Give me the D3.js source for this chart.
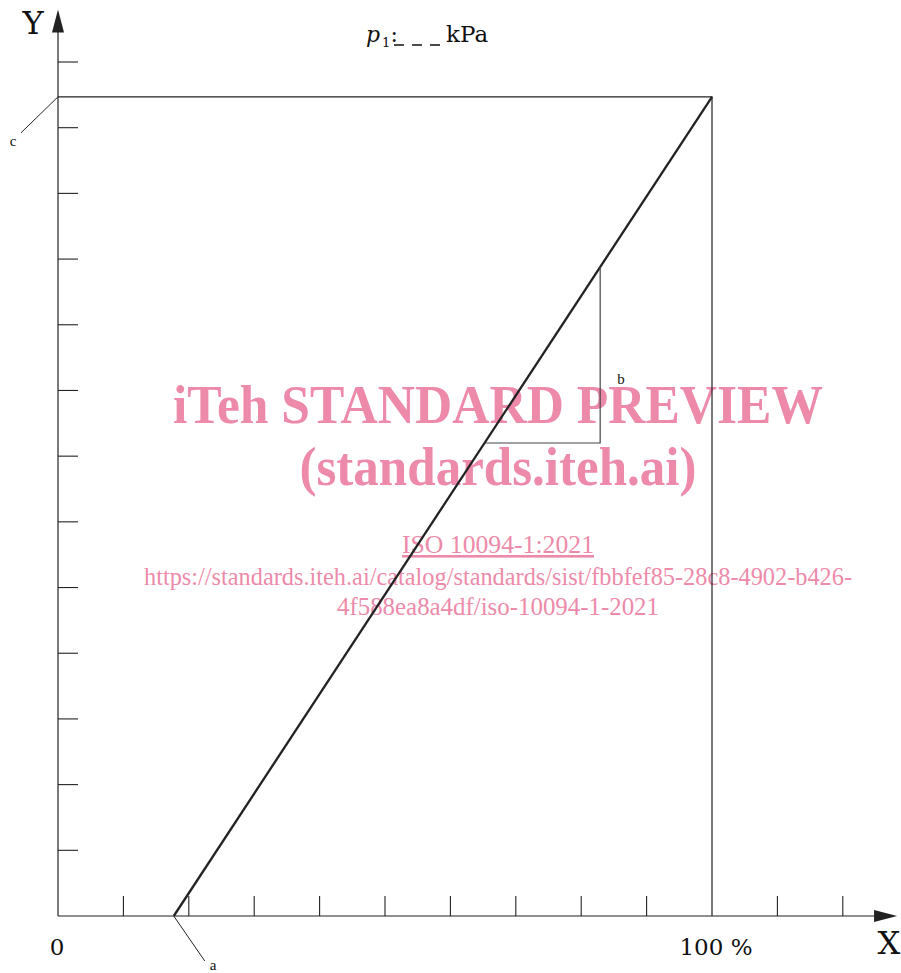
<!DOCTYPE html>
<html>
<head>
<meta charset="utf-8">
<script src="https://cdn.jsdelivr.net/npm/d3@7"></script>
<style>
  body { margin: 0; background: #fff; }
  svg text { font-family: "Liberation Serif", "DejaVu Serif", serif; }
  svg text.lab { font-family: "DejaVu Serif", serif; }
</style>
</head>
<body>
<svg id="chart"></svg>
<script>
const svgWidth = 901;
const svgHeight = 973;

// x in percent of stroke, y in tick units
const xTicks = [10, 20, 30, 40, 50, 60, 70, 80, 90, 100, 110, 120];
const yTicks = [1, 2, 3, 4, 5, 6, 7, 8, 9, 10, 11, 12, 13];
const xMax = 128.3;
const yMax = 13.8;
const fullScale = 12.47;
const lineData = [{ x: 17.7, y: 0 }, { x: 100, y: fullScale }];
const slopeX = [82.9];
const slopeY = [7.2];

const svg = d3.select('#chart')
    .attr('width', svgWidth)
    .attr('height', svgHeight);

const x = d3.scaleLinear().domain([0, 100]).range([58, 712]);
const y = d3.scaleLinear().domain([0, 13]).range([916, 62]);

const ink = '#222';

// watermark (underneath the drawing)
const pink = '#ed8aaa';
svg.append('text').attr('x', 498).attr('y', 423).attr('text-anchor', 'middle')
    .attr('font-size', 54).attr('font-weight', 'bold').attr('fill', pink)
    .attr('textLength', 650).attr('lengthAdjust', 'spacingAndGlyphs')
    .text('iTeh STANDARD PREVIEW');
svg.append('text').attr('x', 498).attr('y', 485).attr('text-anchor', 'middle')
    .attr('font-size', 54).attr('font-weight', 'bold').attr('fill', pink)
    .attr('textLength', 397).attr('lengthAdjust', 'spacingAndGlyphs')
    .text('(standards.iteh.ai)');
svg.append('text').attr('x', 498).attr('y', 553).attr('text-anchor', 'middle')
    .attr('font-size', 26).attr('fill', pink)
    .attr('text-decoration', 'underline')
    .attr('textLength', 192).attr('lengthAdjust', 'spacingAndGlyphs')
    .text('ISO 10094-1:2021');
svg.append('text').attr('x', 498).attr('y', 585).attr('text-anchor', 'middle')
    .attr('font-size', 26).attr('fill', pink)
    .attr('textLength', 708).attr('lengthAdjust', 'spacingAndGlyphs')
    .text('https://standards.iteh.ai/catalog/standards/sist/fbbfef85-28c8-4902-b426-');
svg.append('text').attr('x', 498).attr('y', 615).attr('text-anchor', 'middle')
    .attr('font-size', 26).attr('fill', pink)
    .attr('textLength', 322).attr('lengthAdjust', 'spacingAndGlyphs')
    .text('4f588ea8a4df/iso-10094-1-2021');

// axes
svg.append('line')
    .attr('x1', x(0)).attr('y1', y(0))
    .attr('x2', x(xMax) - 20).attr('y2', y(0))
    .attr('stroke', ink).attr('stroke-width', 1.2);
svg.append('path')
    .attr('d', `M${x(xMax)},${y(0)} L${x(xMax) - 23},${y(0) - 6} L${x(xMax) - 23},${y(0) + 6} Z`)
    .attr('fill', ink);
svg.append('line')
    .attr('x1', x(0)).attr('y1', y(0))
    .attr('x2', x(0)).attr('y2', y(yMax) + 20)
    .attr('stroke', ink).attr('stroke-width', 1.2);
svg.append('path')
    .attr('d', `M${x(0)},${y(yMax)} L${x(0) - 6},${y(yMax) + 23} L${x(0) + 6},${y(yMax) + 23} Z`)
    .attr('fill', ink);

// ticks
svg.selectAll('.xtick')
    .data(xTicks.filter(d => d !== 100))
    .enter().append('line')
    .attr('class', 'xtick')
    .attr('x1', d => x(d)).attr('x2', d => x(d))
    .attr('y1', y(0)).attr('y2', y(0) - 20)
    .attr('stroke', ink).attr('stroke-width', 1.1);

svg.selectAll('.ytick')
    .data(yTicks)
    .enter().append('line')
    .attr('class', 'ytick')
    .attr('x1', x(0)).attr('x2', x(0) + 20)
    .attr('y1', d => y(d)).attr('y2', d => y(d))
    .attr('stroke', ink).attr('stroke-width', 1.1);

// full-scale frame
svg.append('path')
    .attr('d', `M${x(0)},${y(fullScale)} H${x(100)} V${y(0)}`)
    .attr('fill', 'none').attr('stroke', ink).attr('stroke-width', 1.2);

// characteristic line
svg.append('path')
    .datum(lineData)
    .attr('d', d3.line().x(d => x(d.x)).y(d => y(d.y)))
    .attr('fill', 'none').attr('stroke', ink).attr('stroke-width', 2.3);

// slope triangle (b)
let lineX = v => lineData[0].x + (v - lineData[0].y) * (lineData[1].x - lineData[0].x) / (lineData[1].y - lineData[0].y);
let lineY = v => lineData[0].y + (v - lineData[0].x) * (lineData[1].y - lineData[0].y) / (lineData[1].x - lineData[0].x);
svg.append('path')
    .attr('d', `M${x(lineX(slopeY[0]))},${y(slopeY[0])} H${x(slopeX[0])} V${y(lineY(slopeX[0]))}`)
    .attr('fill', 'none').attr('stroke', '#444').attr('stroke-width', 1.2);

// leaders
svg.append('line')
    .attr('x1', x(0)).attr('y1', y(fullScale))
    .attr('x2', x(0) - 37).attr('y2', y(fullScale) + 36)
    .attr('stroke', ink).attr('stroke-width', 1);
svg.append('line')
    .attr('x1', x(lineData[0].x)).attr('y1', y(0))
    .attr('x2', x(lineData[0].x) + 31).attr('y2', y(0) + 45)
    .attr('stroke', ink).attr('stroke-width', 1);

// labels
const lbl = (tx, ty, s, size, anchor) => svg.append('text')
    .attr('x', tx).attr('y', ty).attr('font-size', size)
    .attr('text-anchor', anchor || 'start').attr('fill', '#111').text(s);

lbl(33, 34, 'Y', 32, 'middle').attr('class', 'lab');
lbl(889, 954, 'X', 32, 'middle').attr('class', 'lab');
lbl(x(0) - 1, 955, '0', 23, 'middle').attr('class', 'lab');
lbl(x(100) + 4, 955, '100 %', 23, 'middle').attr('class', 'lab');
lbl(13, 146, 'c', 15, 'middle');
lbl(213, 970, 'a', 15, 'middle');
lbl(621, 384, 'b', 15, 'middle');

// title p1: ___ kPa
let title = svg.append('text').attr('class', 'lab').attr('x', 366).attr('y', 42).attr('font-size', 22).attr('fill', '#111');
title.append('tspan').attr('font-style', 'italic').text('p');
title.append('tspan').attr('font-size', 13).attr('dy', 5).attr('dx', 2).text('1');
title.append('tspan').attr('dy', -5).text(':');
svg.append('line')
    .attr('x1', 394).attr('x2', 440).attr('y1', 45).attr('y2', 45)
    .attr('stroke', '#111').attr('stroke-width', 1.5)
    .attr('stroke-dasharray', '10,8');
lbl(446, 42, 'kPa', 23).attr('class', 'lab');
</script>
</body>
</html>
